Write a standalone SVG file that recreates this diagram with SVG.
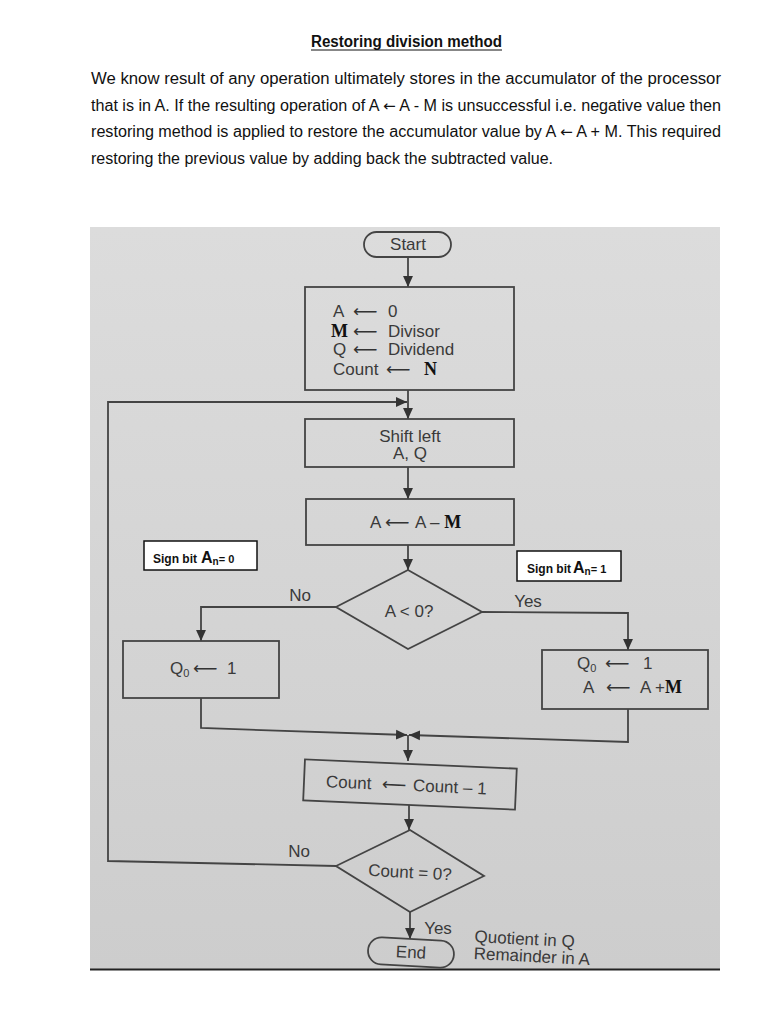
<svg xmlns="http://www.w3.org/2000/svg" width="768" height="1024" viewBox="0 0 768 1024">
<defs>
<style>
.hd{font-family:"Liberation Sans",Arial,sans-serif;font-size:16px;fill:#111}
.ha{font-family:"DejaVu Sans",sans-serif;font-size:15px}
.t{font-family:"Liberation Sans",Arial,sans-serif;font-size:17px;fill:#3a3a3a}
.ar{font-family:"DejaVu Sans",sans-serif;font-size:17px;fill:#333}
.sf{font-family:"Liberation Serif","Times New Roman",serif;font-weight:bold;font-size:18px;fill:#111}
.sub{font-size:11px}
.box{fill:none;stroke:#444;stroke-width:1.8}
.ln{fill:none;stroke:#444;stroke-width:1.8}
.sb{fill:#fff;stroke:#111;stroke-width:1.5}
.sbt{font-family:"Liberation Sans",Arial,sans-serif;font-weight:bold;font-size:12px;fill:#111}
</style>
<linearGradient id="bg" x1="0" y1="0" x2="0" y2="1">
<stop offset="0" stop-color="#dcdcdc"/>
<stop offset="1" stop-color="#cdcdcd"/>
</linearGradient>
<marker id="ah" viewBox="0 0 10 10" refX="10" refY="5" markerWidth="11" markerHeight="11" markerUnits="userSpaceOnUse" orient="auto">
<path d="M0,0.5 L10,5 L0,9.5 z" fill="#333"/>
</marker>
</defs>
<rect width="768" height="1024" fill="#fff"/>
<g id="header">
<text class="hd" x="311" y="47" font-weight="bold" textLength="191" lengthAdjust="spacingAndGlyphs">Restoring division method</text>
<line x1="311" y1="50" x2="502" y2="50" stroke="#111" stroke-width="1.2"/>
<text class="hd" x="91" y="84" textLength="630" lengthAdjust="spacingAndGlyphs">We know result of any operation ultimately stores in the accumulator of the processor</text>
<text class="hd" x="91" y="111" textLength="630" lengthAdjust="spacingAndGlyphs">that is in A. If the resulting operation of A <tspan class="ha">←</tspan> A - M is unsuccessful i.e. negative value then</text>
<text class="hd" x="91" y="137" textLength="630" lengthAdjust="spacingAndGlyphs">restoring method is applied to restore the accumulator value by  A <tspan class="ha">←</tspan> A + M. This required</text>
<text class="hd" x="91" y="164" textLength="462" lengthAdjust="spacingAndGlyphs">restoring the previous value by adding back the subtracted value.</text>
</g>
<rect x="90" y="227" width="630" height="742" fill="url(#bg)"/>
<line x1="90" y1="969.5" x2="720" y2="969.5" stroke="#222" stroke-width="2"/>
<g id="connectors">
<path class="ln" d="M408,257 V287" marker-end="url(#ah)"/>
<path class="ln" d="M408,390 V419" marker-end="url(#ah)"/>
<path class="ln" d="M336,866 L108,861 V402 H407" marker-end="url(#ah)"/>
<path class="ln" d="M408,467 V499" marker-end="url(#ah)"/>
<path class="ln" d="M408,545 V570" marker-end="url(#ah)"/>
<path class="ln" d="M336,607 H201 V641" marker-end="url(#ah)"/>
<path class="ln" d="M482,612 L628,613 V650" marker-end="url(#ah)"/>
<path class="ln" d="M201,698 V728 L407,735" marker-end="url(#ah)"/>
<path class="ln" d="M628,709 V742 L409,735" marker-end="url(#ah)"/>
<path class="ln" d="M408,735 V761" marker-end="url(#ah)"/>
<path class="ln" d="M409,805 V830" marker-end="url(#ah)"/>
<path class="ln" d="M410,912 V939" marker-end="url(#ah)"/>
</g>
<g id="start">
<rect class="box" x="364" y="232" width="87" height="25" rx="12.5"/>
<text class="t" x="408" y="250" text-anchor="middle">Start</text>
</g>
<g id="init">
<rect class="box" x="305" y="287" width="209" height="103"/>
<text class="t" y="317"><tspan x="333">A</tspan><tspan x="353" class="ar">⟵</tspan><tspan x="388">0</tspan></text>
<text class="t" y="337"><tspan x="331" class="sf">M</tspan><tspan x="353" class="ar">⟵</tspan><tspan x="388">Divisor</tspan></text>
<text class="t" y="355"><tspan x="333">Q</tspan><tspan x="353" class="ar">⟵</tspan><tspan x="388">Dividend</tspan></text>
<text class="t" y="375"><tspan x="333">Count</tspan><tspan x="386" class="ar">⟵</tspan><tspan x="424" class="sf">N</tspan></text>
</g>
<g id="shift">
<rect class="box" x="305" y="419" width="209" height="48"/>
<text class="t" x="410" y="442" text-anchor="middle">Shift left</text>
<text class="t" x="410" y="459" text-anchor="middle">A, Q</text>
</g>
<g id="subtract">
<rect class="box" x="306" y="499" width="208" height="46"/>
<text class="t" y="528"><tspan x="370">A</tspan><tspan x="385" class="ar">⟵</tspan><tspan x="415">A – </tspan><tspan class="sf">M</tspan></text>
</g>
<g id="sign0">
<rect class="sb" x="144" y="541" width="113" height="29"/>
<text class="sbt" y="563"><tspan x="153">Sign bit</tspan><tspan x="201" font-size="16">A</tspan><tspan font-size="10" dy="2">n</tspan><tspan font-size="11" dy="-2">= 0</tspan></text>
</g>
<g id="sign1">
<rect class="sb" x="517" y="551" width="104" height="30"/>
<text class="sbt" y="573"><tspan x="527">Sign bit</tspan><tspan x="573" font-size="16">A</tspan><tspan font-size="10" dy="2">n</tspan><tspan font-size="11" dy="-2">= 1</tspan></text>
</g>
<g id="test-a">
<polygon class="box" points="408,570 482,612 408,649 336,607"/>
<text class="t" x="409" y="617" text-anchor="middle">A &lt; 0?</text>
<text class="t" x="300" y="601" text-anchor="middle">No</text>
<text class="t" x="528" y="607" text-anchor="middle">Yes</text>
</g>
<g id="set-q0">
<rect class="box" x="123" y="641" width="156" height="57"/>
<text class="t" y="674"><tspan x="170">Q</tspan><tspan class="sub" dy="3">0</tspan><tspan x="193" class="ar" dy="-3">⟵</tspan><tspan x="227">1</tspan></text>
</g>
<g id="restore">
<rect class="box" x="542" y="650" width="166" height="59"/>
<text class="t" y="669"><tspan x="577">Q</tspan><tspan class="sub" dy="3">0</tspan><tspan x="605" class="ar" dy="-3">⟵</tspan><tspan x="643">1</tspan></text>
<text class="t" y="693"><tspan x="583">A</tspan><tspan x="606" class="ar">⟵</tspan><tspan x="640">A +</tspan><tspan class="sf">M</tspan></text>
</g>
<g id="decrement" transform="rotate(2.5 410 784)">
<rect class="box" x="304" y="764" width="212" height="41"/>
<text class="t" y="791"><tspan x="326">Count</tspan><tspan x="382" class="ar">⟵</tspan><tspan x="413">Count – 1</tspan></text>
</g>
<g id="test-count">
<polygon class="box" points="410,830 484,876 410,912 336,866"/>
<text class="t" x="410" y="878" text-anchor="middle" transform="rotate(3 410 872)">Count = 0?</text>
<text class="t" x="299" y="857" text-anchor="middle">No</text>
<text class="t" x="438" y="934" text-anchor="middle">Yes</text>
</g>
<g id="end" transform="rotate(3 411 952)">
<rect class="box" x="368" y="939" width="86" height="27" rx="13.5"/>
<text class="t" x="411" y="958" text-anchor="middle">End</text>
</g>
<g id="result" transform="rotate(3 474 948)">
<text class="t" x="474" y="942" fill="#222">Quotient in Q</text>
<text class="t" x="474" y="959" fill="#222">Remainder in A</text>
</g>
</svg>
